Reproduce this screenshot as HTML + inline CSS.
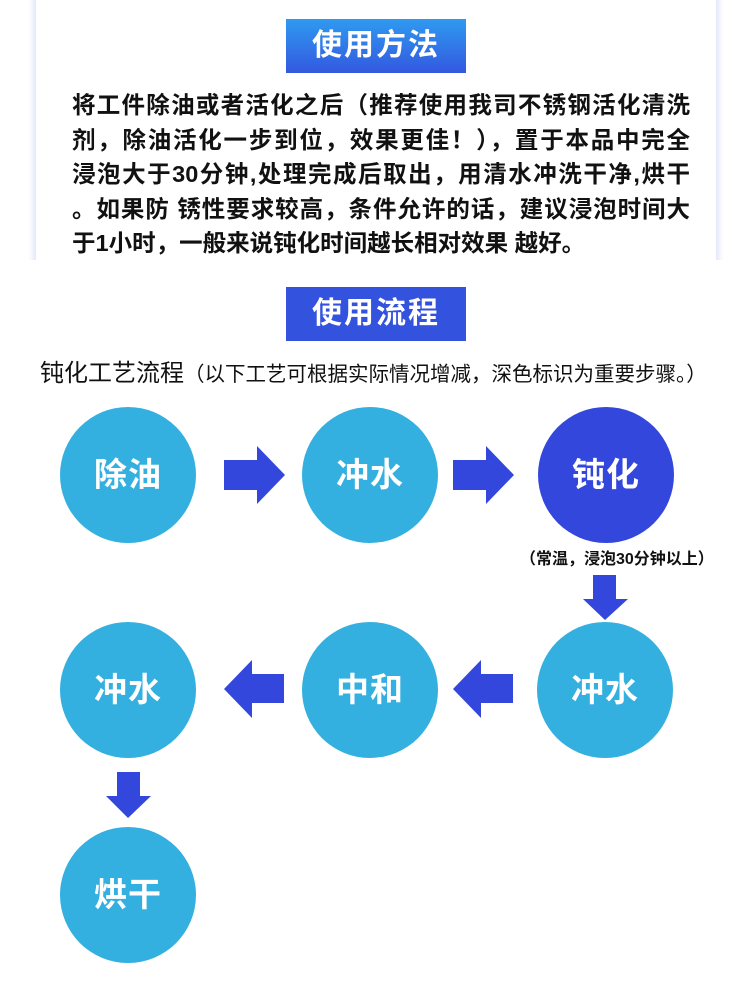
<!DOCTYPE html>
<html><head><meta charset="utf-8"><style>
body{margin:0;width:750px;height:981px;background:#fff;position:relative;overflow:hidden;font-family:"Liberation Sans","Noto Sans CJK SC",sans-serif}
.card{position:absolute;left:36px;top:-10px;width:680px;height:290px;background:#fff;box-shadow:0 0 6px 3px #dfe5f8}
.cover{position:absolute;left:0;top:260px;width:750px;height:40px;background:#fff}
.hdr{position:absolute;left:286px;width:180px;height:54px;color:#fff;font-weight:bold;font-size:30px;text-align:center;line-height:54px;letter-spacing:2px}
.p{position:absolute;left:72px;top:88px;width:618px;font-size:23.5px;font-weight:bold;line-height:34.5px;color:#111}
.p div{white-space:nowrap;text-align:justify;text-align-last:justify}
.c{position:absolute;width:136px;height:136px;border-radius:50%;background:#34b0e0;color:#fff;font-size:33px;font-weight:bold;text-align:center;line-height:136px;letter-spacing:1px}
.d{background:#3347dd}
svg{position:absolute;left:0;top:0}
</style></head><body>
<div class="card"></div>
<div class="cover"></div>
<div class="hdr" style="top:19px;background:linear-gradient(#2f9af0,#3358e0)">使用方法</div>
<div class="p">
<div>将工件除油或者活化之后（推荐使用我司不锈钢活化清洗</div>
<div>剂，除油活化一步到位，效果更佳！），置于本品中完全</div>
<div>浸泡大于30分钟,处理完成后取出，用清水冲洗干净,烘干</div>
<div>。如果防 锈性要求较高，条件允许的话，建议浸泡时间大</div>
<div style="text-align-last:left">于1小时，一般来说钝化时间越长相对效果 越好。</div>
</div>
<div class="hdr" style="top:287px;background:#3352dd">使用流程</div>
<div style="position:absolute;left:40px;top:353px;font-size:24px;color:#111;white-space:nowrap">钝化工艺流程<span style="font-size:20.5px">（以下工艺可根据实际情况增减，深色标识为重要步骤。）</span></div>
<div class="c" style="left:60px;top:407px">除油</div>
<div class="c" style="left:302px;top:407px">冲水</div>
<div class="c d" style="left:538px;top:407px">钝化</div>
<div style="position:absolute;left:520px;top:545px;font-size:16px;font-weight:bold;color:#111;white-space:nowrap">（常温，浸泡30分钟以上）</div>
<div class="c" style="left:537px;top:622px">冲水</div>
<div class="c" style="left:302px;top:622px">中和</div>
<div class="c" style="left:60px;top:622px">冲水</div>
<div class="c" style="left:60px;top:827px">烘干</div>
<svg width="750" height="981">
<g fill="#3347dd">
<polygon points="224,460 257,460 257,446 285,475 257,504 257,490 224,490"/>
<polygon points="453,460 486,460 486,446 514,475 486,504 486,490 453,490"/>
<polygon points="593,575 616,575 616,599 628,599 605,620 583,599 593,599"/>
<polygon points="513,674 481,674 481,660 453,689 481,718 481,703 513,703"/>
<polygon points="284,674 252,674 252,660 224,689 252,718 252,703 284,703"/>
<polygon points="117,772 140,772 140,796 151,796 128,818 106,796 117,796"/>
</g></svg>
</body></html>
